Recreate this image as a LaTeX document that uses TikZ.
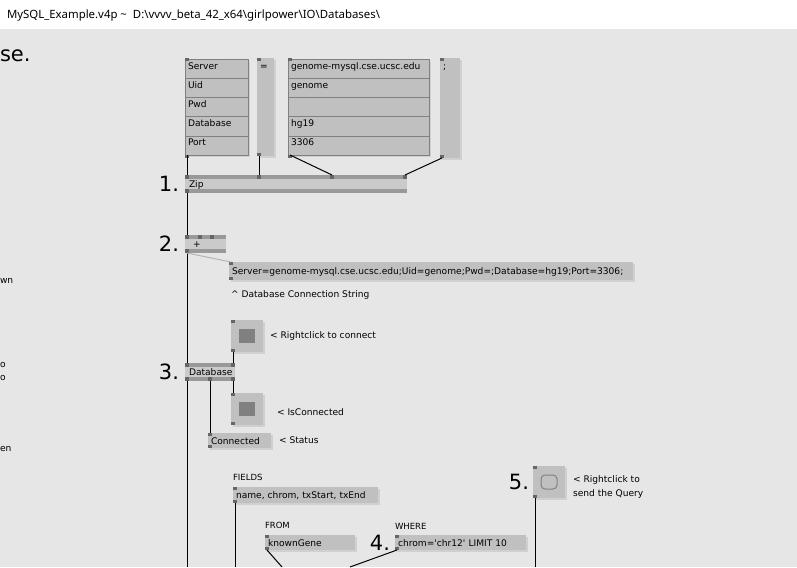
\documentclass[tikz,border=0pt]{standalone}
\usepackage{fontspec}
\usepackage{tikz}
\usetikzlibrary{positioning}
\newfontfamily\patchfont{DejaVu Sans}
\newfontfamily\barfont{Noto Sans}
\definecolor{patchbg}{HTML}{E6E6E6}
\definecolor{boxgray}{HTML}{C0C0C0}
\definecolor{boxshade}{HTML}{D0D0D0}
\definecolor{cellline}{HTML}{808080}
\definecolor{nodebar}{HTML}{999999}
\definecolor{nodemid}{HTML}{CACACA}
\definecolor{pindark}{HTML}{666666}
\definecolor{knob}{HTML}{808080}
\definecolor{softgray}{HTML}{B4B4B4}

\begin{document}
\begin{tikzpicture}
	[x=1pt, y=-1pt, font=\patchfont\fontsize{9.1}{11}\selectfont,
	% STYLES
	every node/.style={inner sep=0pt, outer sep=0pt},
	% The link style is used for the wires between two pins
	link/.style={draw=black, line width=1pt},
	% the grey wire going to the string box
	softlink/.style={draw=softgray, line width=1pt},
	% The cell style is used for one row of a spreadsheet io box
	cell/.style={rectangle, draw=cellline, line width=1pt, fill=boxgray, inner xsep=3pt, text height=10pt, text depth=9pt, align=left, preaction={fill=boxshade, transform canvas={shift={(2pt,-2pt)}}}},
	keycell/.style={cell, text width=57pt},
	valcell/.style={cell, text width=135pt},
	% The iobox style is used for the single io boxes, pins top and bottom
	iobox/.style={rectangle, fill=boxgray, anchor=north west, inner xsep=3pt, text height=7pt, text depth=0pt, align=left, preaction={fill=boxshade, transform canvas={shift={(2pt,-2pt)}}},
		path picture={
			\fill[pindark] (path picture bounding box.north west) rectangle ++(4pt,-3pt);
			\fill[pindark] (path picture bounding box.south west) rectangle ++(4pt,3pt);}},
	% toggle box with a square in it
	togglebox/.style={rectangle, fill=boxgray, anchor=north west, minimum width=32pt, minimum height=32pt, preaction={fill=boxshade, transform canvas={shift={(2pt,-2pt)}}},
		path picture={
			\fill[pindark] (path picture bounding box.north west) rectangle ++(4pt,-3pt);
			\fill[pindark] (path picture bounding box.south west) rectangle ++(4pt,3pt);
			\fill[knob] ([shift={(-8pt,-7pt)}]path picture bounding box.center) rectangle ++(16pt,14pt);}},
	% bang box with a round outline in it
	bangbox/.style={rectangle, fill=boxgray, anchor=north west, minimum width=32pt, minimum height=32pt, preaction={fill=boxshade, transform canvas={shift={(2pt,-2pt)}}},
		path picture={
			\fill[pindark] (path picture bounding box.north west) rectangle ++(4pt,-3pt);
			\fill[pindark] (path picture bounding box.south west) rectangle ++(4pt,3pt);
			\draw[knob, line width=1pt, rounded corners=4pt] ([shift={(-8pt,-7pt)}]path picture bounding box.center) rectangle ++(16pt,14pt);}},
	% The vnode style is used to draw the patch nodes
	vnode/.style={rectangle, fill=nodemid, anchor=north west, minimum height=18pt, inner xsep=4pt, text height=7pt, text depth=0pt, align=left,
		path picture={
			\fill[nodebar] (path picture bounding box.north west) rectangle ([yshift=-4pt]path picture bounding box.north east);
			\fill[nodebar] (path picture bounding box.south west) rectangle ([yshift=4pt]path picture bounding box.south east);
			\fill[pindark] (path picture bounding box.north west) rectangle ++(4pt,-4pt);
			\fill[pindark] (path picture bounding box.south west) rectangle ++(4pt,4pt);}},
	% step numbers
	num/.style={font=\patchfont\fontsize{21}{24}\selectfont},
	% comments next to boxes
	comment/.style={anchor=west, align=left},
	% small captions over boxes
	caption/.style={font=\patchfont\fontsize{8.5}{10}\selectfont}]

	\useasboundingbox (0,0) rectangle (797,567);
	\fill[white] (0,0) rectangle (797,29);
	\fill[patchbg] (0,29) rectangle (797,567);

	\node [anchor=base west, font=\barfont\fontsize{11.4}{13}\selectfont] (title) at (7,18.5)
		{MySQL\_Example.v4p \textasciitilde\ \ D:\textbackslash vvvv\_beta\_42\_x64\textbackslash girlpower\textbackslash IO\textbackslash Databases\textbackslash};

	% cut off text at the left border
	\node [comment, num] (frag1) at (0,56) {se.};
	\node [comment] (frag2) at (0,281) {wn};
	\node [comment] (frag3) at (0,365) {o};
	\node [comment] (frag4) at (0,378) {o};
	\node [comment] (frag5) at (0,449) {en};

	% Spreadsheets
	\node [keycell, anchor=north west] (key1) at (185,60) {Server};
	\node [keycell, below=0pt of key1] (key2) {Uid};
	\node [keycell, below=0pt of key2] (key3) {Pwd};
	\node [keycell, below=0pt of key3] (key4) {Database};
	\node [keycell, below=0pt of key4] (key5) {Port};

	\node [iobox, text width=11pt, text height=12pt, text depth=86pt] (eq) at (257,58) {=};

	\node [valcell, right=40pt of key1] (val1) {genome-mysql.cse.ucsc.edu};
	\node [valcell, below=0pt of val1] (val2) {genome};
	\node [valcell, below=0pt of val2] (val3) {};
	\node [valcell, below=0pt of val3] (val4) {hg19};
	\node [valcell, below=0pt of val4] (val5) {3306};

	\node [iobox, text width=14pt, text height=12pt, text depth=88pt] (semi) at (440,58) {;};

	% Draw nodes
	\node [vnode, text width=214pt] (zip) at (185,175) {Zip};
	\node [num, left=6pt of zip] (step1) {1.};

	\node [vnode, inner xsep=8pt, text width=25pt] (plus) at (185,235) {+};
	\node [num, left=6pt of plus] (step2) {2.};

	\node [iobox, text width=398pt, minimum height=18pt] (connstr) at (229,262)
		{Server=genome-mysql.cse.ucsc.edu;Uid=genome;Pwd=;Database=hg19;Port=3306;};
	\node [comment] (connnote) at (231,295) {\textasciicircum\ Database Connection String};

	\node [togglebox] (bang1) at (231,320) {};
	\node [comment, right=7pt of bang1] (comment-bang1) {< Rightclick to connect};

	\node [vnode, text width=42pt] (db) at (185,363) {Database};
	\node [num, left=6pt of db] (step3) {3.};

	\node [togglebox] (tog) at (231,393) {};
	\node [comment, right=14pt of tog, yshift=-3pt] (comment-tog) {< IsConnected};

	\node [iobox, text width=57pt, minimum height=15pt] (status) at (208,433) {Connected};
	\node [comment, right=8pt of status] (comment-status) {< Status};

	% Query parts
	\node [iobox, text width=139pt, minimum height=16pt] (fields) at (233,487) {name, chrom, txStart, txEnd};
	\node [caption, above right=6pt and 0pt of fields.north west] (cap-fields) {FIELDS};

	\node [iobox, text width=84pt, minimum height=15pt] (from) at (265,535) {knownGene};
	\node [caption, above right=6pt and 0pt of from.north west] (cap-from) {FROM};

	\node [iobox, text width=125pt, minimum height=15pt] (where) at (395,535) {chrom=\textquotesingle chr12\textquotesingle\ LIMIT 10};
	\node [caption, above right=6pt and 0pt of where.north west] (cap-where) {WHERE};
	\node [num, left=5pt of where] (step4) {4.};

	\node [bangbox] (bang2) at (533,466) {};
	\node [num, left=4pt of bang2] (step5) {5.};
	\node [comment, right=8pt of bang2, yshift=-5pt, font=\patchfont\fontsize{9.1}{14}\selectfont] (comment-bang2) {< Rightclick to\\send the Query};

	% more pins on the nodes
	\fill[pindark] ([xshift=72pt]zip.north west) rectangle +(4,4);
	\fill[pindark] ([xshift=145pt]zip.north west) rectangle +(4,4);
	\fill[pindark] ([xshift=-4pt]zip.north east) rectangle +(4,4);
	\fill[pindark] ([xshift=13pt]plus.north west) rectangle +(4,4);
	\fill[pindark] ([xshift=25pt]plus.north west) rectangle +(4,4);
	\fill[pindark] ([xshift=-4pt]db.north east) rectangle +(4,4);
	\fill[pindark] ([xshift=23pt]db.south west) rectangle +(4,-4);
	\fill[pindark] ([xshift=-4pt]db.south east) rectangle +(4,-4);
	\fill[pindark] ([yshift=2pt]key1.north west) rectangle +(4,3);
	\fill[pindark] (key5.south west) rectangle +(4,3);
	\fill[pindark] ([yshift=2pt]val1.north west) rectangle +(4,3);
	\fill[pindark] (val5.south west) rectangle +(4,3);

	% wire ends at the bottom
	\coordinate (out1) at (187,567);
	\coordinate (out2) at (235,567);
	\coordinate (out3) at (282,567);
	\coordinate (out4) at (350,567);
	\coordinate (out5) at (535,567);

	%%%%%%%%%%%%%%%%
	% Draw the links between pins
	\draw[link] ([xshift=2pt]key5.south west) -- ([xshift=2pt]zip.north west);
	\draw[link] ([xshift=2pt]eq.south west) -- ([xshift=74pt]zip.north west);
	\draw[link] ([xshift=2pt]val5.south west) -- ([xshift=147pt]zip.north west);
	\draw[link] ([xshift=2pt]semi.south west) -- ([xshift=-2pt]zip.north east);
	\draw[link] ([xshift=2pt]zip.south west) -- ([xshift=2pt]plus.north west);
	\draw[link] ([xshift=2pt]plus.south west) -- ([xshift=2pt]db.north west);
	\draw[softlink] ([xshift=2pt]plus.south west) -- ([xshift=2pt]connstr.north west);
	\draw[link] ([xshift=2pt]bang1.south west) -- ([xshift=-2pt]db.north east);
	\draw[link] ([xshift=-2pt]db.south east) -- ([xshift=2pt]tog.north west);
	\draw[link] ([xshift=25pt]db.south west) -- ([xshift=2pt]status.north west);
	\draw[link] ([xshift=2pt]db.south west) -- (out1);
	\draw[link] ([xshift=2pt]fields.south west) -- (out2);
	\draw[link] ([xshift=2pt]from.south west) -- (out3);
	\draw[link] ([xshift=2pt]where.south west) -- (out4);
	\draw[link] ([xshift=2pt]bang2.south west) -- (out5);
\end{tikzpicture}
\end{document}
